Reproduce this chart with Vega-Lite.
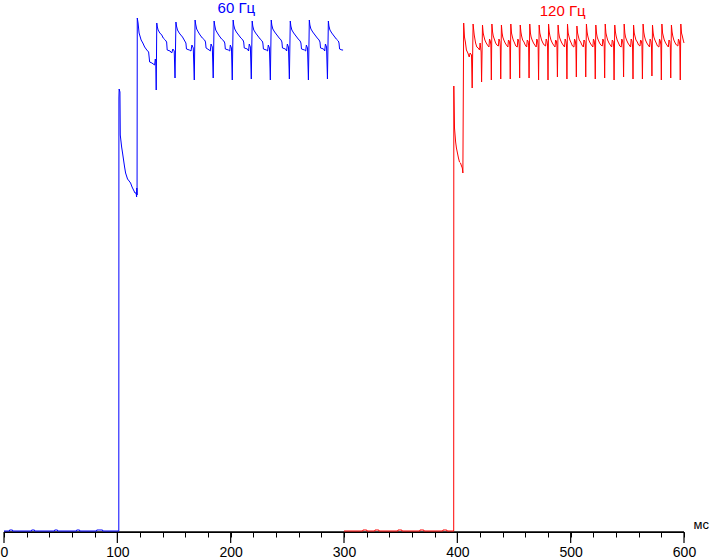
{
  "$schema": "https://vega.github.io/schema/vega-lite/v6.json",
  "autosize": {"type": "none"},
  "width": 680,
  "height": 532,
  "padding": {"left": 4, "top": 0, "right": 27, "bottom": 28},
  "background": "#ffffff",
  "config": {
    "view": {"stroke": null},
    "axisX": {
      "tickCount": 30, "grid": false,
      "domain": true, "domainColor": "#000000", "domainWidth": 1, "domainOpacity": 1,
      "ticks": true, "tickSize": 5, "tickColor": "#000000", "tickWidth": 1, "tickOpacity": 1,
      "labelExpr": "datum.value % 100 === 0 ? datum.label : ''",
      "labelColor": "#000000", "labelFont": "Liberation Sans", "labelFontSize": 14,
      "labelOverlap": false, "labelFlush": false, "labelPadding": 8,
      "titleFont": "Liberation Sans", "titleFontSize": 13, "titleFontWeight": "normal", "titleColor": "#000000",
      "titleX": 689, "titleY": -4, "titleAlign": "left", "titleBaseline": "alphabetic"
    }
  },
  "datasets": {
    "hz60": [
      {"t":0,"v":1},{"t":4.8,"v":1},{"t":4.9,"v":2},{"t":7.5,"v":2},{"t":7.6,"v":1},{"t":24.3,"v":1},{"t":24.4,"v":2},{"t":26.9,"v":2},{"t":27,"v":1},{"t":44.6,"v":1},{"t":44.7,"v":2},{"t":47.2,"v":2},{"t":47.3,"v":1},{"t":64,"v":1},{"t":64.1,"v":2},{"t":66.7,"v":2},{"t":66.8,"v":1},{"t":81.7,"v":1},{"t":81.8,"v":2},{"t":87,"v":2},{"t":87.1,"v":1},{"t":101.3,"v":1},
      {"t":101.4,"v":434},{"t":101.6,"v":443},{"t":102.3,"v":440},{"t":102.6,"v":397},{"t":103.8,"v":385},{"t":104.6,"v":379},{"t":105.5,"v":372},{"t":106.4,"v":365},{"t":107.3,"v":359},{"t":109,"v":353},{"t":110.4,"v":351},{"t":111.7,"v":349},{"t":113,"v":345},{"t":114.3,"v":342},{"t":115.6,"v":339},{"t":116.6,"v":339},{"t":117,"v":335},{"t":117.2,"v":344},{"t":117.4,"v":337},
      {"t":117.6,"v":514},{"t":118.3,"v":509},{"t":119.2,"v":499},{"t":121,"v":492},{"t":122.5,"v":489},{"t":124.1,"v":485},{"t":126,"v":482},{"t":127.6,"v":480},{"t":128.5,"v":470},{"t":130.5,"v":469},{"t":132.9,"v":467},{"t":133.5,"v":473},{"t":133.9,"v":471},{"t":134.3,"v":442},
      {"t":134.8,"v":509},{"t":135.3,"v":505},{"t":136,"v":502},{"t":137.5,"v":499},{"t":139.2,"v":497},{"t":140.5,"v":494},{"t":142.3,"v":492},{"t":143.5,"v":490},{"t":144,"v":482},{"t":146.5,"v":481},{"t":148,"v":479},{"t":149,"v":483},{"t":150.2,"v":481},{"t":150.9,"v":454},
      {"t":151.7,"v":510},{"t":152.2,"v":506},{"t":153.1,"v":502},{"t":154.6,"v":499},{"t":156,"v":497},{"t":157.5,"v":495},{"t":159.5,"v":491},{"t":160.5,"v":489},{"t":161,"v":483},{"t":163.5,"v":482},{"t":165,"v":481},{"t":165.8,"v":487},{"t":167,"v":484},{"t":167.9,"v":452},
      {"t":168.6,"v":512},{"t":169.1,"v":508},{"t":170,"v":503},{"t":171.4,"v":500},{"t":173,"v":497},{"t":175,"v":494},{"t":177,"v":492},{"t":177.8,"v":490},{"t":178.3,"v":484},{"t":181,"v":482},{"t":182,"v":481},{"t":182.7,"v":488},{"t":183.8,"v":485},{"t":184.6,"v":454},
      {"t":185.4,"v":511},{"t":185.9,"v":507},{"t":186.8,"v":502},{"t":188.3,"v":499},{"t":190,"v":496},{"t":192,"v":493},{"t":194,"v":491},{"t":194.8,"v":489},{"t":195.3,"v":483},{"t":198,"v":482},{"t":199.2,"v":481},{"t":199.7,"v":487},{"t":200.7,"v":484},{"t":201.4,"v":452},
      {"t":202.2,"v":512},{"t":202.7,"v":507},{"t":203.6,"v":503},{"t":205,"v":500},{"t":207,"v":497},{"t":209,"v":494},{"t":210.8,"v":492},{"t":211.5,"v":490},{"t":212,"v":484},{"t":214.8,"v":483},{"t":215.8,"v":481},{"t":216.4,"v":488},{"t":217.4,"v":485},{"t":218.2,"v":453},
      {"t":219,"v":511},{"t":219.5,"v":506},{"t":220.4,"v":502},{"t":222,"v":499},{"t":224,"v":496},{"t":226,"v":493},{"t":227.8,"v":491},{"t":228.4,"v":489},{"t":228.9,"v":483},{"t":231.5,"v":482},{"t":232.6,"v":481},{"t":233.2,"v":487},{"t":234.2,"v":484},{"t":235,"v":452},
      {"t":235.8,"v":512},{"t":236.3,"v":507},{"t":237.2,"v":503},{"t":238.8,"v":500},{"t":240.8,"v":497},{"t":242.8,"v":494},{"t":244.5,"v":492},{"t":245.2,"v":490},{"t":245.7,"v":484},{"t":248.4,"v":483},{"t":249.4,"v":481},{"t":250,"v":488},{"t":251,"v":485},{"t":251.8,"v":453},
      {"t":252.6,"v":511},{"t":253.1,"v":506},{"t":254,"v":502},{"t":255.6,"v":499},{"t":257.6,"v":496},{"t":259.6,"v":493},{"t":261.3,"v":491},{"t":262,"v":489},{"t":262.5,"v":483},{"t":265.2,"v":482},{"t":266.2,"v":481},{"t":266.8,"v":487},{"t":267.8,"v":484},{"t":268.6,"v":452},
      {"t":269.4,"v":512},{"t":269.9,"v":507},{"t":270.8,"v":503},{"t":272.4,"v":500},{"t":274.4,"v":497},{"t":276.4,"v":494},{"t":278,"v":492},{"t":278.8,"v":490},{"t":279.3,"v":484},{"t":282,"v":483},{"t":283,"v":481},{"t":283.6,"v":488},{"t":284.6,"v":485},{"t":285.4,"v":453},
      {"t":286.2,"v":511},{"t":286.7,"v":506},{"t":287.6,"v":502},{"t":289.2,"v":499},{"t":291.2,"v":496},{"t":293.2,"v":493},{"t":295,"v":491},{"t":295.6,"v":489},{"t":296.1,"v":483},{"t":298.2,"v":482},{"t":299.2,"v":482}
    ],
    "hz120": [
      {"t":300,"v":1},{"t":316.6,"v":1},{"t":316.7,"v":2},{"t":320.1,"v":2},{"t":320.2,"v":1},{"t":327.2,"v":1},{"t":327.3,"v":2},{"t":330.7,"v":2},{"t":330.8,"v":1},{"t":347.5,"v":1},{"t":347.6,"v":2},{"t":351,"v":2},{"t":351.1,"v":1},{"t":366.9,"v":1},{"t":367,"v":2},{"t":370.4,"v":2},{"t":370.5,"v":1},{"t":387.2,"v":1},{"t":387.3,"v":2},{"t":390.7,"v":2},{"t":390.8,"v":1},{"t":396.8,"v":1},
      {"t":396.9,"v":446},{"t":397.5,"v":404},{"t":398.5,"v":390},{"t":399.2,"v":384},{"t":400.1,"v":379},{"t":401,"v":374},{"t":401.9,"v":370},{"t":402.8,"v":369},{"t":403.7,"v":366},{"t":404.4,"v":364},{"t":404.9,"v":359},
      {"t":405.6,"v":509},{"t":406.3,"v":495},{"t":407.1,"v":490},{"t":408,"v":482},{"t":409.3,"v":479},{"t":410.5,"v":475},{"t":411.3,"v":479},{"t":412.5,"v":477},{"t":413.1,"v":444},
      {"t":413.9,"v":508},{"t":414.9,"v":497},{"t":416.1,"v":489},{"t":417.2,"v":485},{"t":418.4,"v":484},{"t":419.6,"v":482},{"t":420.1,"v":489},{"t":421,"v":480},{"t":421.4,"v":450},
      {"t":422.2,"v":507},{"t":422.8,"v":499},{"t":423.4,"v":496},{"t":424.3,"v":492},{"t":425.5,"v":489},{"t":426.6,"v":487},{"t":427.9,"v":485},{"t":428.4,"v":493},{"t":429.1,"v":491},{"t":429.6,"v":487},{"t":430,"v":452},
      {"t":430.5,"v":508},{"t":431.1,"v":500},{"t":431.7,"v":496},{"t":432.6,"v":493},{"t":433.8,"v":489},{"t":434.9,"v":487},{"t":436.2,"v":486},{"t":436.7,"v":493},{"t":437.4,"v":491},{"t":437.9,"v":486},{"t":438.3,"v":453},
      {"t":438.9,"v":507},{"t":439.5,"v":499},{"t":440.1,"v":495},{"t":441,"v":492},{"t":442.2,"v":489},{"t":443.3,"v":487},{"t":444.6,"v":485},{"t":445.1,"v":492},{"t":445.8,"v":491},{"t":446.3,"v":487},{"t":446.7,"v":453},
      {"t":447.2,"v":508},{"t":447.8,"v":499},{"t":448.4,"v":496},{"t":449.3,"v":492},{"t":450.5,"v":489},{"t":451.6,"v":486},{"t":452.9,"v":485},{"t":453.4,"v":493},{"t":454.1,"v":491},{"t":454.6,"v":486},{"t":455,"v":454},
      {"t":455.5,"v":507},{"t":456.1,"v":500},{"t":456.7,"v":496},{"t":457.6,"v":492},{"t":458.8,"v":490},{"t":459.9,"v":487},{"t":461.2,"v":485},{"t":461.7,"v":492},{"t":462.4,"v":491},{"t":462.9,"v":487},{"t":463.3,"v":454},
      {"t":463.9,"v":508},{"t":464.5,"v":499},{"t":465.1,"v":495},{"t":466,"v":492},{"t":467.2,"v":489},{"t":468.3,"v":487},{"t":469.6,"v":485},{"t":470.1,"v":493},{"t":470.8,"v":491},{"t":471.3,"v":486},{"t":471.7,"v":452},
      {"t":472.2,"v":507},{"t":472.8,"v":499},{"t":473.4,"v":496},{"t":474.3,"v":492},{"t":475.5,"v":489},{"t":476.6,"v":487},{"t":477.9,"v":486},{"t":478.4,"v":493},{"t":479.1,"v":491},{"t":479.6,"v":487},{"t":480,"v":452},
      {"t":480.5,"v":508},{"t":481.1,"v":500},{"t":481.7,"v":496},{"t":482.6,"v":492},{"t":483.8,"v":489},{"t":484.9,"v":487},{"t":486.2,"v":485},{"t":486.7,"v":492},{"t":487.4,"v":491},{"t":487.9,"v":486},{"t":488.3,"v":455},
      {"t":488.9,"v":507},{"t":489.5,"v":499},{"t":490.1,"v":495},{"t":491,"v":492},{"t":492.2,"v":489},{"t":493.3,"v":487},{"t":494.6,"v":485},{"t":495.1,"v":493},{"t":495.8,"v":491},{"t":496.3,"v":487},{"t":496.7,"v":453},
      {"t":497.2,"v":508},{"t":497.8,"v":499},{"t":498.4,"v":496},{"t":499.3,"v":492},{"t":500.5,"v":489},{"t":501.6,"v":486},{"t":502.9,"v":485},{"t":503.4,"v":493},{"t":504.1,"v":491},{"t":504.6,"v":486},{"t":505,"v":455},
      {"t":505.5,"v":506},{"t":506.1,"v":499},{"t":506.7,"v":496},{"t":507.6,"v":492},{"t":508.8,"v":490},{"t":509.9,"v":487},{"t":511.2,"v":485},{"t":511.7,"v":492},{"t":512.4,"v":491},{"t":512.9,"v":487},{"t":513.3,"v":455},
      {"t":513.9,"v":508},{"t":514.5,"v":500},{"t":515.1,"v":496},{"t":516,"v":492},{"t":517.2,"v":489},{"t":518.3,"v":487},{"t":519.6,"v":485},{"t":520.1,"v":493},{"t":520.8,"v":491},{"t":521.3,"v":486},{"t":521.7,"v":453},
      {"t":522.2,"v":507},{"t":522.8,"v":499},{"t":523.4,"v":495},{"t":524.3,"v":492},{"t":525.5,"v":489},{"t":526.6,"v":487},{"t":527.9,"v":486},{"t":528.4,"v":493},{"t":529.1,"v":491},{"t":529.6,"v":487},{"t":530,"v":454},
      {"t":530.5,"v":508},{"t":531.1,"v":499},{"t":531.7,"v":496},{"t":532.6,"v":492},{"t":533.8,"v":489},{"t":534.9,"v":487},{"t":536.2,"v":485},{"t":536.7,"v":492},{"t":537.4,"v":491},{"t":537.9,"v":486},{"t":538.3,"v":452},
      {"t":538.9,"v":507},{"t":539.5,"v":500},{"t":540.1,"v":496},{"t":541,"v":492},{"t":542.2,"v":489},{"t":543.3,"v":486},{"t":544.6,"v":485},{"t":545.1,"v":493},{"t":545.8,"v":491},{"t":546.3,"v":487},{"t":546.7,"v":455},
      {"t":547.2,"v":508},{"t":547.8,"v":499},{"t":548.4,"v":495},{"t":549.3,"v":492},{"t":550.5,"v":489},{"t":551.6,"v":487},{"t":552.9,"v":485},{"t":553.4,"v":493},{"t":554.1,"v":491},{"t":554.6,"v":486},{"t":555,"v":453},
      {"t":555.5,"v":507},{"t":556.1,"v":499},{"t":556.7,"v":496},{"t":557.6,"v":492},{"t":558.8,"v":490},{"t":559.9,"v":487},{"t":561.2,"v":486},{"t":561.7,"v":492},{"t":562.4,"v":491},{"t":562.9,"v":487},{"t":563.3,"v":453},
      {"t":563.9,"v":508},{"t":564.5,"v":500},{"t":565.1,"v":496},{"t":566,"v":492},{"t":567.2,"v":489},{"t":568.3,"v":487},{"t":569.6,"v":485},{"t":570.1,"v":493},{"t":570.8,"v":491},{"t":571.3,"v":486},{"t":571.7,"v":456},
      {"t":572.2,"v":507},{"t":572.8,"v":499},{"t":573.4,"v":495},{"t":574.3,"v":492},{"t":575.5,"v":489},{"t":576.6,"v":486},{"t":577.9,"v":485},{"t":578.4,"v":493},{"t":579.1,"v":491},{"t":579.6,"v":487},{"t":580,"v":452},
      {"t":580.5,"v":508},{"t":581.1,"v":499},{"t":581.7,"v":496},{"t":582.6,"v":492},{"t":583.8,"v":489},{"t":584.9,"v":487},{"t":586.2,"v":485},{"t":586.7,"v":492},{"t":587.4,"v":491},{"t":587.9,"v":486},{"t":588.3,"v":454},
      {"t":588.9,"v":507},{"t":589.5,"v":500},{"t":590.1,"v":496},{"t":591,"v":492},{"t":592.2,"v":489},{"t":593.3,"v":487},{"t":594.6,"v":486},{"t":595.1,"v":493},{"t":595.8,"v":491},{"t":596.3,"v":487},{"t":596.7,"v":452},
      {"t":597.2,"v":508},{"t":597.8,"v":499},{"t":598.5,"v":496},{"t":599.3,"v":492},{"t":600,"v":489}
    ],
    "axisLine": [
      {"t":0,"v":0},{"t":600,"v":0}
    ],
    "majorTicks": [
      {"t":0},{"t":100},{"t":200},{"t":300},{"t":400},{"t":500},{"t":600}
    ]
  },
  "layer": [
    {
      "data": {"name": "axisLine"},
      "mark": {"type": "line", "color": "#000000", "strokeWidth": 1.5, "clip": false},
      "encoding": {
        "x": {"field": "t", "type": "quantitative", "scale": {"domain": [0, 600], "nice": false, "zero": false}, "title": "мс"},
        "y": {"field": "v", "type": "quantitative", "scale": {"domain": [0, 532], "nice": false}, "axis": null}
      }
    },
    {
      "data": {"name": "majorTicks"},
      "mark": {"type": "tick", "color": "#000000", "orient": "vertical", "thickness": 1.2, "size": 11, "opacity": 1, "clip": false},
      "encoding": {
        "x": {"field": "t", "type": "quantitative", "title": "мс"},
        "y": {"datum": -5.5, "type": "quantitative", "axis": null}
      }
    },
    {
      "data": {"name": "hz60"},
      "mark": {"type": "line", "color": "#0000ff", "strokeWidth": 1, "interpolate": "linear"},
      "encoding": {
        "x": {"field": "t", "type": "quantitative", "title": "мс"},
        "y": {"field": "v", "type": "quantitative", "axis": null}
      }
    },
    {
      "data": {"name": "hz120"},
      "mark": {"type": "line", "color": "#ff0000", "strokeWidth": 1, "interpolate": "linear"},
      "encoding": {
        "x": {"field": "t", "type": "quantitative", "title": "мс"},
        "y": {"field": "v", "type": "quantitative", "axis": null}
      }
    },
    {
      "data": {"values": [{"label": "60 Гц"}]},
      "mark": {"type": "text", "color": "#0000ff", "font": "Liberation Sans", "fontSize": 15, "align": "center", "baseline": "alphabetic"},
      "encoding": {
        "x": {"datum": 205, "type": "quantitative", "title": "мс"},
        "y": {"datum": 519, "type": "quantitative", "axis": null},
        "text": {"field": "label"}
      }
    },
    {
      "data": {"values": [{"label": "120 Гц"}]},
      "mark": {"type": "text", "color": "#ff0000", "font": "Liberation Sans", "fontSize": 15, "align": "center", "baseline": "alphabetic"},
      "encoding": {
        "x": {"datum": 493, "type": "quantitative", "title": "мс"},
        "y": {"datum": 516, "type": "quantitative", "axis": null},
        "text": {"field": "label"}
      }
    }
  ]
}
